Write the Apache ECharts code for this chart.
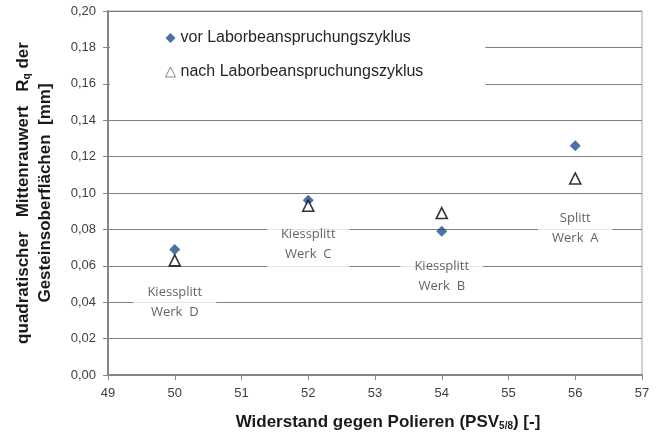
<!DOCTYPE html>
<html><head><meta charset="utf-8">
<script src="https://cdn.jsdelivr.net/npm/echarts@6/dist/echarts.min.js"></script>
<style>html,body{margin:0;padding:0;background:#fff}#c{width:662px;height:436px}</style>
</head><body><div id="c"></div>
<script>
const psv = [50, 52, 54, 56];
const vorValues = [0.069, 0.096, 0.079, 0.126];
const nachValues = [0.063, 0.093, 0.089, 0.108];
const seriesNames = ['vor Laborbeanspruchungszyklus', 'nach Laborbeanspruchungszyklus'];
const annotX = [50, 52, 54, 56];
const annotY = [0.040, 0.072, 0.0542, 0.0808];
const annotText = ['Kiessplitt\nWerk  D', 'Kiessplitt\nWerk  C', 'Kiessplitt\nWerk  B', 'Splitt\nWerk  A'];

const chart = echarts.init(document.getElementById('c'));
const fmt = v => v.toFixed(2).replace('.', ',');
const axisFont = {fontFamily: 'Liberation Sans', fontSize: 13, color: '#404040'};
chart.setOption({
  animation: false,
  grid: {left: 108, right: 20, top: 11, bottom: 61, show: true, borderColor: '#a6a6a6', borderWidth: 1,
    containLabel: false, outerBoundsMode: 'none'},
  legend: {
    orient: 'vertical', left: 110, top: 26, itemGap: 18,
    backgroundColor: '#fff', padding: [4, 62, 10, 55],
    itemWidth: 10, itemHeight: 10,
    textStyle: {fontFamily: 'Liberation Sans', fontSize: 16, color: '#262626'},
    data: [
      {name: seriesNames[0], icon: 'diamond', itemStyle: {color: '#1f4e8c'}},
      {name: seriesNames[1], icon: 'triangle', itemStyle: {color: '#fff', borderColor: '#666', borderWidth: 1}}
    ]
  },
  xAxis: {
    type: 'value', min: 49, max: 57, interval: 1,
    axisLine: {onZero: false, lineStyle: {color: '#868686', width: 2}},
    axisTick: {show: true, length: 5, lineStyle: {color: '#868686'}},
    axisLabel: Object.assign({margin: 12}, axisFont),
    splitLine: {show: false},
    name: 'Widerstand gegen Polieren (PSV{s|5/8}) [-]',
    nameLocation: 'middle', nameGap: 39,
    nameTextStyle: {fontFamily: 'Liberation Sans', fontSize: 17, fontWeight: 'bold', color: '#1a1a1a',
      padding: [0, 0, 0, 26],
      rich: {s: {fontFamily: 'Liberation Sans', fontSize: 10, fontWeight: 'bold', color: '#1a1a1a', verticalAlign: 'bottom', padding: [7, 0, 0, 0]}}}
  },
  yAxis: {
    type: 'value', min: 0, max: 0.2, interval: 0.02,
    axisLine: {show: true, lineStyle: {color: '#868686', width: 2}},
    axisTick: {show: true, length: 5, lineStyle: {color: '#868686'}},
    axisLabel: Object.assign({margin: 12, formatter: fmt}, axisFont),
    splitLine: {show: true, lineStyle: {color: '#7f7f7f', width: 1}},
    name: '{b|quadratischer   Mittenrauwert   R}{s|q}{b| der}\n{b|Gesteinsoberflächen  [mm]}',
    nameLocation: 'middle', nameRotate: 90, nameGap: 52,
    nameTextStyle: {lineHeight: 22,
      rich: {
        b: {fontFamily: 'Liberation Sans', fontSize: 17, fontWeight: 'bold', color: '#1a1a1a', lineHeight: 22},
        s: {fontFamily: 'Liberation Sans', fontSize: 10, fontWeight: 'bold', color: '#1a1a1a', lineHeight: 22, padding: [9, 0, 0, 0]}
      }}
  },
  series: [
    {
      type: 'scatter', name: 'annot', silent: true, z: 1, legendHoverLink: false,
      symbolSize: 0,
      data: annotX.map((x, i) => ({value: [x, annotY[i]], label: {formatter: annotText[i]}})),
      label: {show: true, position: 'inside', fontFamily: 'Open Sans', fontSize: 13, color: '#3a3a3a',
        lineHeight: 20, align: 'center', backgroundColor: '#fff', padding: [5, 14, 4, 14]}
    },
    {
      type: 'scatter', name: seriesNames[0], z: 3, symbol: 'diamond', symbolSize: 11,
      itemStyle: {color: '#1f4e8c'},
      data: psv.map((x, i) => [x, vorValues[i]])
    },
    {
      type: 'scatter', name: seriesNames[1], z: 4, symbol: 'triangle', symbolSize: [11, 11],
      itemStyle: {color: '#fff', borderColor: '#000', borderWidth: 1.6},
      data: psv.map((x, i) => [x, nachValues[i]])
    }
  ]
});
</script></body></html>
